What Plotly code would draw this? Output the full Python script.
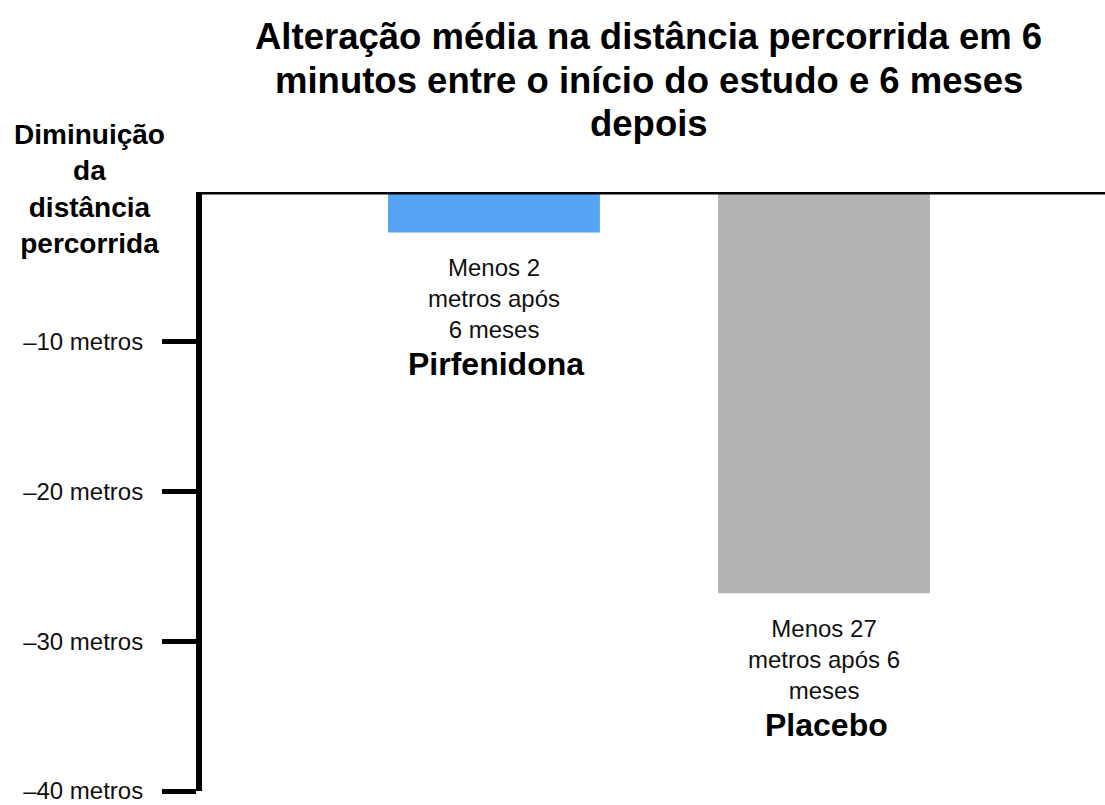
import plotly.graph_objects as go

categories = ["Pirfenidona", "Placebo"]
values = [-2.7, -26.8]
bar_labels = ["Menos 2<br>metros após<br>6 meses", "Menos 27<br>metros após 6<br>meses"]
colors = ["#56A4F4", "#B3B3B3"]
tick_vals = [-10, -20, -30, -40]
tick_text = ["–10 metros", "–20 metros", "–30 metros", "–40 metros"]
title_lines = ["Alteração média na distância percorrida em 6",
               "minutos entre o início do estudo e 6 meses",
               "depois"]
yaxis_title = "Diminuição<br>da<br>distância<br>percorrida"

FONT = "Liberation Sans, Arial, sans-serif"
x_pos = list(range(len(categories)))

W, H = 1105, 805
MT, MB, ML, MR = 192, 14, 202, 0
PH = H - MT - MB

fig = go.Figure()
fig.add_trace(go.Bar(
    x=x_pos, y=values, width=0.642,
    marker=dict(color=colors, line=dict(width=0)),
    hoverinfo="skip",
))

for xi, v, lab, name in zip(x_pos, values, bar_labels, categories):
    fig.add_annotation(x=xi, y=v, xref="x", yref="y", text=lab, showarrow=False,
                       yanchor="top", yshift=-20, align="center",
                       font=dict(family=FONT, size=24, color="#111111"))
    fig.add_annotation(x=xi, y=v, xref="x", yref="y", text="<b>" + name + "</b>", showarrow=False,
                       yanchor="middle", yshift=-132, xshift=2, align="center",
                       font=dict(family=FONT, size=32, color="#000000"))

fig.add_annotation(x=0, y=1, xref="paper", yref="paper", text="<b>" + yaxis_title + "</b>",
                   showarrow=False, xanchor="center", yanchor="middle", xshift=-113, yshift=3,
                   align="center", font=dict(family=FONT, size=28, color="#000000"))

title_mid_px = [37, 80, 123]
for line, ypx in zip(title_lines, title_mid_px):
    fig.add_annotation(x=0.5, y=1 + (MT - ypx) / PH, xref="paper", yref="paper",
                       text="<b>" + line + "</b>", showarrow=False,
                       xanchor="center", yanchor="middle", xshift=-5,
                       align="center", font=dict(family=FONT, size=36.5, color="#000000"))

# top baseline (zero line) drawn across the plot
fig.add_shape(type="line", xref="paper", yref="y", x0=-6 / (W - ML - MR), x1=1, y0=0, y1=0,
              line=dict(color="black", width=5), layer="above")

fig.update_layout(
    width=W, height=H,
    margin=dict(l=ML, r=MR, t=MT, b=MB, autoexpand=False),
    paper_bgcolor="white", plot_bgcolor="white",
    showlegend=False,
    xaxis=dict(range=[-0.8848, 1.8515], showline=False, showticklabels=False, ticks="",
               showgrid=False, zeroline=False, automargin=False),
    yaxis=dict(range=[-40, 0], showline=True, linecolor="black", linewidth=6,
               tickvals=tick_vals, ticktext=tick_text, ticks="outside", ticklen=34, tickwidth=5,
               tickcolor="black", showgrid=False, zeroline=False, automargin=False,
               ticklabelstandoff=14, ticklabeloverflow="allow",
               tickfont=dict(family=FONT, size=24, color="#111111")),
)

fig.write_html("out.html", config={"displayModeBar": False},
               post_script="document.body.style.margin='0px';")
